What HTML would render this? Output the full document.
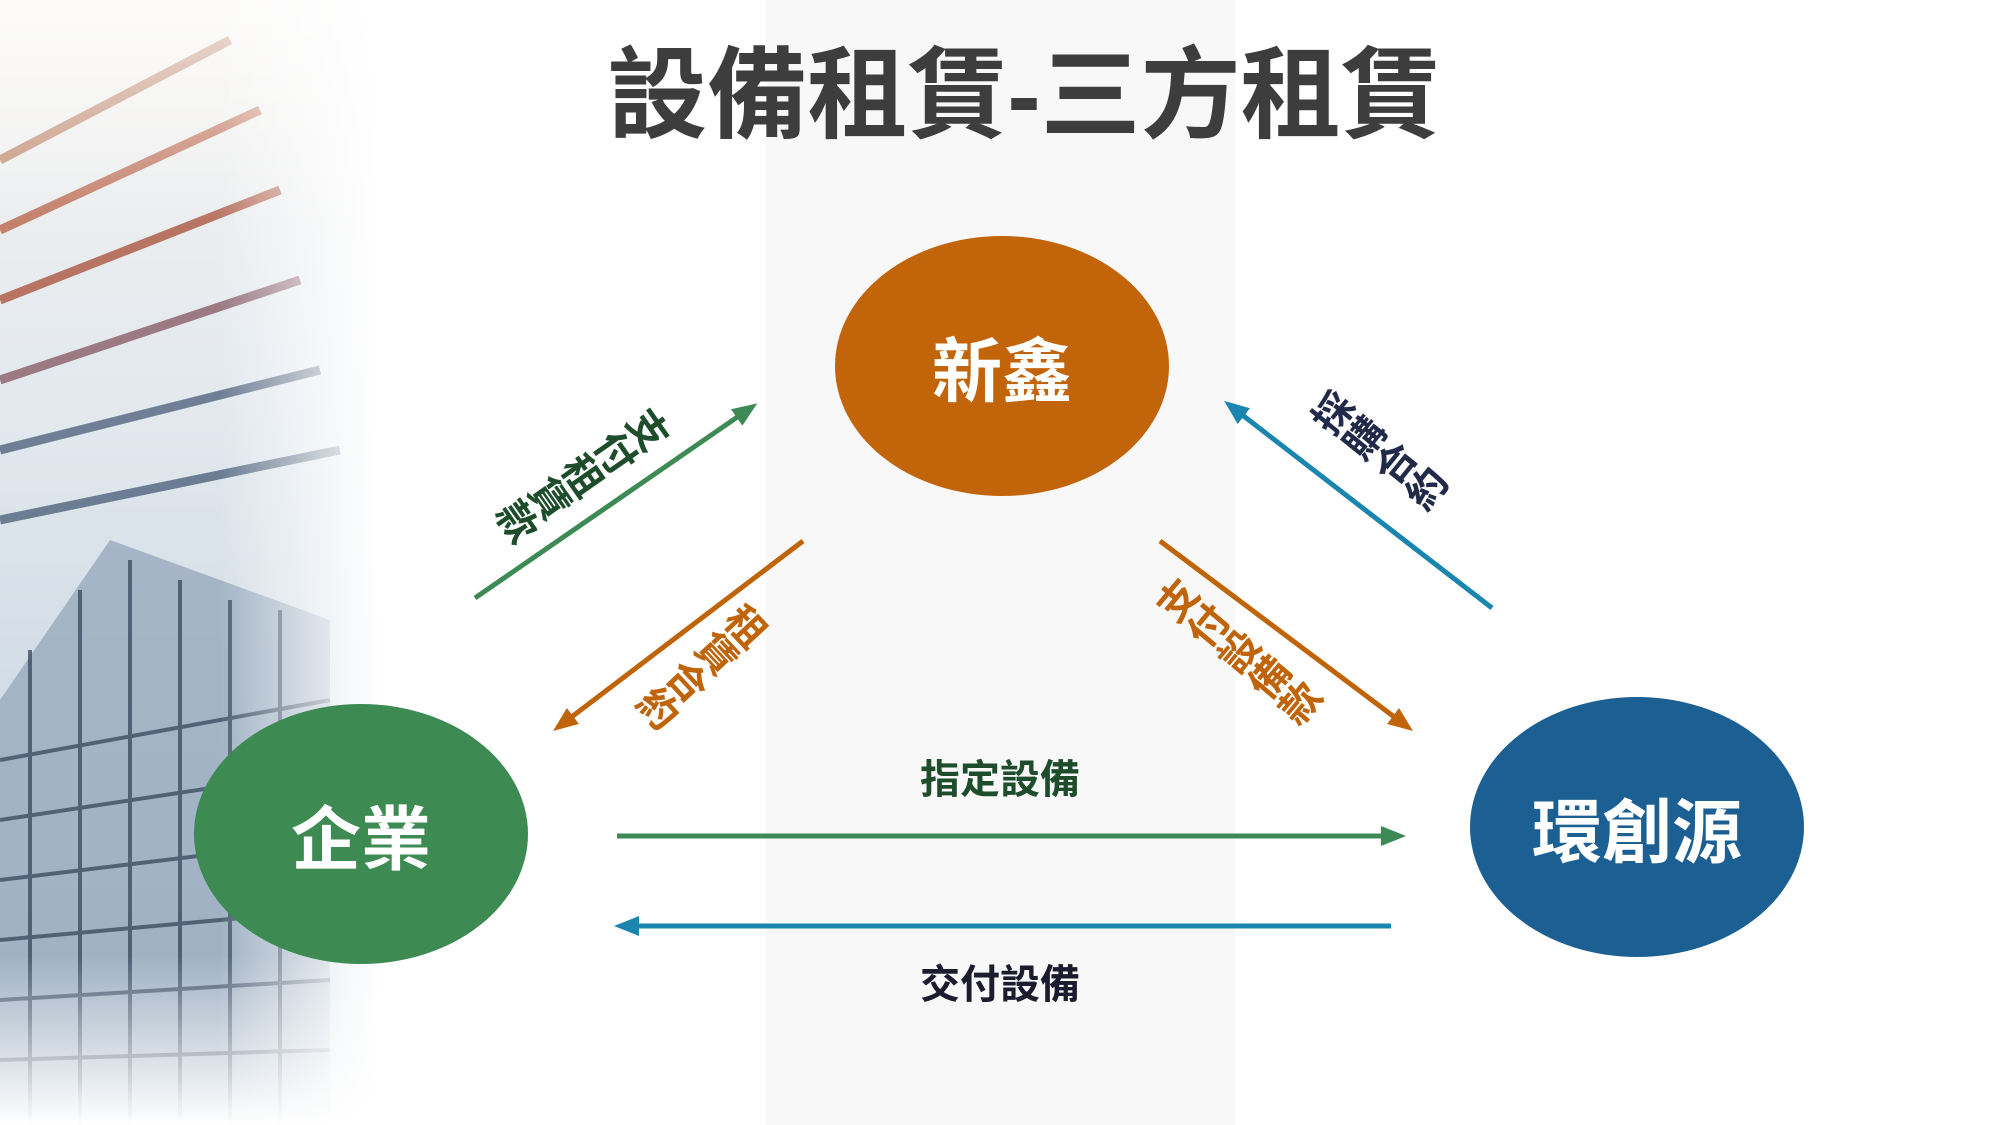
<!DOCTYPE html>
<html><head><meta charset="utf-8"><style>
html,body{margin:0;padding:0}
body{width:2000px;height:1125px;position:relative;overflow:hidden;background:#fff;font-family:"Liberation Sans","Noto Sans CJK TC",sans-serif}
.band{position:absolute;left:766px;top:0;width:469px;height:1125px;background:#f8f8f8}
.bld{position:absolute;left:0;top:0;width:400px;height:1125px;overflow:hidden;
 -webkit-mask-image:linear-gradient(90deg,#000 0%,#000 55%,transparent 95%);mask-image:linear-gradient(90deg,#000 0%,#000 55%,transparent 95%)}
.title{position:absolute;left:524px;width:1000px;top:96px;transform:translateY(-50%);text-align:center;font-size:100px;line-height:1;font-weight:bold;color:#3d3d3d}
.node{position:absolute;border-radius:50%;color:#fff;font-weight:bold;font-size:70px;display:flex;align-items:center;justify-content:center}
.lbl{position:absolute;font-size:40px;font-weight:bold;white-space:nowrap;transform:translate(-50%,-50%)}
.vl{position:absolute;font-size:40px;font-weight:bold;writing-mode:vertical-rl;white-space:nowrap;line-height:1}
</style></head><body>
<div class="band"></div>
<div class="bld">
<svg width="400" height="1125">
<defs><linearGradient id="sky" x1="0" y1="0" x2="0" y2="1">
<stop offset="0" stop-color="#f6f3ef"/><stop offset="0.35" stop-color="#e3e9ef"/><stop offset="0.6" stop-color="#d3dde6"/><stop offset="1" stop-color="#c8d4de"/></linearGradient>
<linearGradient id="fade" x1="0" y1="0" x2="0" y2="1"><stop offset="0" stop-color="#fff" stop-opacity="0.7"/><stop offset="0.2" stop-color="#fff" stop-opacity="0"/><stop offset="0.85" stop-color="#fff" stop-opacity="0"/><stop offset="1" stop-color="#fff" stop-opacity="1"/></linearGradient></defs>
<rect width="400" height="1125" fill="url(#sky)"/>
<g stroke-width="9" fill="none">
<line x1="0" y1="160" x2="230" y2="40" stroke="#c4937a"/>
<line x1="0" y1="230" x2="260" y2="110" stroke="#c4806a"/>
<line x1="0" y1="300" x2="280" y2="190" stroke="#b87462"/>
<line x1="0" y1="380" x2="300" y2="280" stroke="#9b7a84"/>
<line x1="0" y1="450" x2="320" y2="370" stroke="#6e7f95"/>
<line x1="0" y1="520" x2="340" y2="450" stroke="#6b7d93"/>
</g>
<polygon points="0,700 110,540 330,620 330,1125 0,1125" fill="#8ea3b8" opacity="0.7"/>
<g stroke="#3d4e63" stroke-width="4" opacity="0.8">
<line x1="0" y1="760" x2="330" y2="700"/><line x1="0" y1="820" x2="330" y2="770"/><line x1="0" y1="880" x2="330" y2="840"/><line x1="0" y1="940" x2="330" y2="910"/><line x1="0" y1="1000" x2="330" y2="980"/><line x1="0" y1="1060" x2="330" y2="1050"/>
<line x1="30" y1="650" x2="30" y2="1125"/><line x1="80" y1="590" x2="80" y2="1125"/><line x1="130" y1="560" x2="130" y2="1125"/><line x1="180" y1="580" x2="180" y2="1125"/><line x1="230" y1="600" x2="230" y2="1125"/><line x1="280" y1="610" x2="280" y2="1125"/>
</g>
<rect width="400" height="1125" fill="url(#fade)"/>
</svg></div>

<div class="title">設備租賃-三方租賃</div>

<div class="node" style="left:835px;top:236px;width:334px;height:260px;background:#c1640a">新鑫</div>
<div class="node" style="left:194px;top:704px;width:334px;height:260px;background:#3e8a53">企業</div>
<div class="node" style="left:1470px;top:697px;width:334px;height:260px;background:#1c5f93">環創源</div>

<svg width="2000" height="1125" style="position:absolute;left:0;top:0">
<defs>
<marker id="ag" markerWidth="5" markerHeight="4" refX="3" refY="2" orient="auto" markerUnits="strokeWidth"><path d="M0,0 L5,2 L0,4 z" fill="#3e8a55"/></marker>
<marker id="ao" markerWidth="5" markerHeight="4" refX="3" refY="2" orient="auto" markerUnits="strokeWidth"><path d="M0,0 L5,2 L0,4 z" fill="#c0640a"/></marker>
<marker id="ab" markerWidth="5" markerHeight="4" refX="3" refY="2" orient="auto" markerUnits="strokeWidth"><path d="M0,0 L5,2 L0,4 z" fill="#1a86b0"/></marker>
</defs>
<g stroke-width="5">
<line x1="475" y1="598" x2="749" y2="409" stroke="#3e8a55" marker-end="url(#ag)"/>
<line x1="803" y1="541" x2="561" y2="725" stroke="#c0640a" marker-end="url(#ao)"/>
<line x1="1160" y1="541" x2="1405" y2="725" stroke="#c0640a" marker-end="url(#ao)"/>
<line x1="1492" y1="608" x2="1232" y2="407" stroke="#1a86b0" marker-end="url(#ab)"/>
<line x1="617" y1="836" x2="1396" y2="836" stroke="#3e8a55" marker-end="url(#ag)"/>
<line x1="1391" y1="926" x2="624" y2="926" stroke="#1a86b0" marker-end="url(#ab)"/>
</g></svg>

<div class="lbl" style="left:1000px;top:776px;color:#1e4d2b">指定設備</div>
<div class="lbl" style="left:1000px;top:981px;color:#1c1c2e">交付設備</div>

<div class="vl" style="left:581px;top:472px;color:#1e4d2b;transform:translate(-50%,-50%) rotate(55deg)">支付租賃款</div>
<div class="vl" style="left:700px;top:664px;color:#c0640a;transform:translate(-50%,-50%) rotate(47deg)">租賃合約</div>
<div class="vl" style="left:1236px;top:654px;color:#c0640a;transform:translate(-50%,-50%) rotate(-50deg)">支付設備款</div>
<div class="vl" style="left:1377px;top:453px;color:#222a4a;transform:translate(-50%,-50%) rotate(-51deg)">採購合約</div>
</body></html>
